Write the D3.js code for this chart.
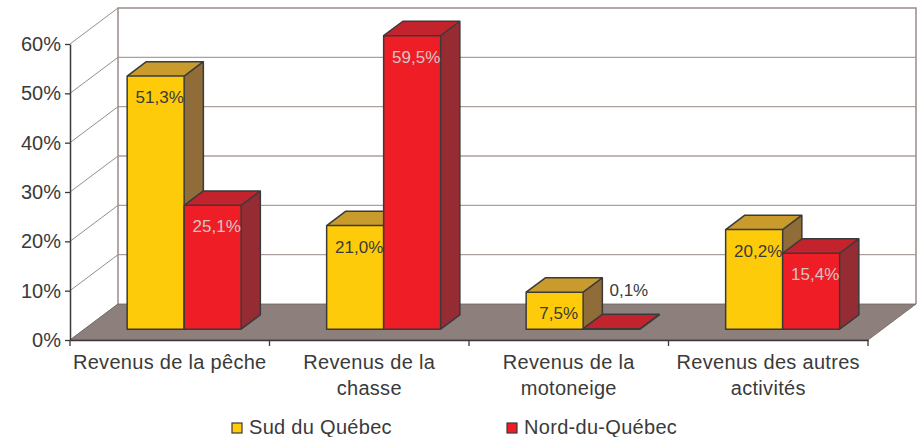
<!DOCTYPE html>
<html>
<head>
<meta charset="utf-8">
<script src="https://cdn.jsdelivr.net/npm/d3@7"></script>
<style>
  body { margin: 0; background: #fff; }
  text { font-family: "Liberation Sans", Arial, sans-serif; }
</style>
</head>
<body>
<div id="chart"></div>
<script>
// data
var categories = ["Revenus de la pêche", "Revenus de la chasse", "Revenus de la motoneige", "Revenus des autres activités"];
var categoryLines = [["Revenus de la pêche"], ["Revenus de la", "chasse"], ["Revenus de la", "motoneige"], ["Revenus des autres", "activités"]];
var seriesNames = ["Sud du Québec", "Nord-du-Québec"];
var sud = [51.3, 21.0, 7.5, 20.2];
var nord = [25.1, 59.5, 0.1, 15.4];
var yTicks = [0, 10, 20, 30, 40, 50, 60];

// colours: front, top, side, label
var colors = [
  {front: "#fecb0a", top: "#c99a2c", side: "#8f6c38", label: "#3a3a3a"},
  {front: "#ee1d26", top: "#c2232c", side: "#962c33", label: "#d6c4c4"}
];

var W = 919, H = 437;
var x0 = 70, x1 = 868, yBase = 340, yTop = 44;
var depthX = 48, depthY = -36;     // full depth offset of the back wall
var zFront = 0.3, zBack = 0.7;     // bars sit in the middle of the depth

var svg = d3.select("#chart").append("svg")
    .attr("width", W).attr("height", H);

var x = d3.scaleBand().domain(categories).range([x0, x1]);
var xs = d3.scaleBand().domain(seriesNames).range([0, x.bandwidth()]).paddingOuter(0.75);
var y = d3.scaleLinear().domain([0, 60]).range([yBase, yTop]);

function px(xv, z) { return xv + depthX * z; }
function py(yv, z) { return yv + depthY * z; }

// back wall gridlines
var wall = svg.append("g");
wall.selectAll("line.grid").data(yTicks.slice(1, -1)).enter().append("line")
    .attr("x1", px(x0, 1)).attr("x2", px(x1, 1))
    .attr("y1", function(d) { return py(y(d), 1); })
    .attr("y2", function(d) { return py(y(d), 1); })
    .attr("stroke", "#ada09c").attr("stroke-width", 1.3);
// diagonals on the side wall
wall.selectAll("line.diag").data(yTicks).enter().append("line")
    .attr("x1", x0).attr("y1", function(d) { return y(d); })
    .attr("x2", px(x0, 1)).attr("y2", function(d) { return py(y(d), 1); })
    .attr("stroke", "#9a8c88").attr("stroke-width", 1);
// wall outline
wall.append("path")
    .attr("d", "M" + px(x0, 1) + "," + py(yBase, 1) +
               "V" + py(yTop, 1) + "H" + px(x1, 1) + "V" + py(yBase, 1))
    .attr("fill", "none").attr("stroke", "#9a8c88").attr("stroke-width", 1.5);

// floor
svg.append("path")
    .attr("d", "M" + x0 + "," + yBase + "L" + px(x0, 1) + "," + py(yBase, 1) +
               "L" + px(x1, 1) + "," + py(yBase, 1) + "L" + x1 + "," + yBase + "Z")
    .attr("fill", "#8d807c").attr("stroke", "#6e625f").attr("stroke-width", 0.8);

// bars
var bars = [];
categories.forEach(function(c, i) {
  [sud[i], nord[i]].forEach(function(v, s) {
    bars.push({cat: c, s: s, name: seriesNames[s], value: v});
  });
});

var barG = svg.append("g").selectAll("g").data(bars).enter().append("g");
barG.each(function(d) {
  var g = d3.select(this);
  var L = x(d.cat) + xs(d.name), R = L + xs.bandwidth();
  var T = y(d.value), B = y(0);
  var fl = px(L, zFront), fr = px(R, zFront), ft = py(T, zFront), fb = py(B, zFront);
  var br = px(R, zBack), bl = px(L, zBack), bt = py(T, zBack), bb = py(B, zBack);
  var c = colors[d.s];
  // side
  g.append("path").attr("d", "M" + fr + "," + ft + "L" + br + "," + bt + "L" + br + "," + bb + "L" + fr + "," + fb + "Z")
    .attr("fill", c.side);
  // top
  g.append("path").attr("d", "M" + fl + "," + ft + "L" + bl + "," + bt + "L" + br + "," + bt + "L" + fr + "," + ft + "Z")
    .attr("fill", c.top);
  // front
  g.append("rect").attr("x", fl).attr("y", ft).attr("width", fr - fl).attr("height", fb - ft)
    .attr("fill", c.front);
  // outline
  g.append("path")
    .attr("d", "M" + fl + "," + fb + "V" + ft + "L" + bl + "," + bt + "H" + br + "V" + bb + "L" + fr + "," + fb + "Z" +
               "M" + fl + "," + ft + "H" + fr + "V" + fb + "M" + fr + "," + ft + "L" + br + "," + bt)
    .attr("fill", "none").attr("stroke", "#3a3a3a").attr("stroke-width", 1.5)
    .attr("stroke-linejoin", "round");
});

// value labels
var fmt = function(v) { return d3.format(".1f")(v).replace(".", ",") + "%"; };
svg.append("g").selectAll("text").data(bars).enter().append("text")
    .attr("font-size", 17)
    .attr("text-anchor", "middle")
    .each(function(d) {
      var L = x(d.cat) + xs(d.name), w = xs.bandwidth();
      var T = y(d.value);
      var inside = (y(0) - T) > 20;
      var t = d3.select(this).text(fmt(d.value));
      if (inside) {
        t.attr("x", px(L + w / 2, zFront) + 4).attr("y", py(T, zFront) + 27)
         .attr("fill", colors[d.s].label);
      } else {
        t.attr("x", px(L + w / 2, zBack) - 2).attr("y", py(T, zBack) - 18)
         .attr("fill", "#3a3a3a");
      }
    });

// y axis
var yAxis = svg.append("g")
    .attr("transform", "translate(" + x0 + ",0)")
    .call(d3.axisLeft(y).tickValues(yTicks).tickSize(5).tickSizeOuter(0).tickPadding(4)
      .tickFormat(function(d) { return d + "%"; }));
yAxis.select(".domain").attr("stroke", "#3a3a3a").attr("stroke-width", 1.5);
yAxis.selectAll(".tick line").attr("stroke", "#3a3a3a").attr("stroke-width", 1.3);
yAxis.selectAll(".tick text").attr("font-size", 20).attr("fill", "#3a3a3a")
    .attr("font-family", "Liberation Sans, Arial, sans-serif");

// x axis
var xAxis = svg.append("g")
    .attr("transform", "translate(0," + yBase + ")")
    .call(d3.axisBottom(x).tickSize(0).tickSizeOuter(0).tickFormat(""));
xAxis.select(".domain").attr("stroke", "#3a3a3a").attr("stroke-width", 1.5);
var bounds = categories.map(function(c) { return x(c); }).concat([x1]);
xAxis.selectAll("line.bound").data(bounds).enter().append("line")
    .attr("class", "bound")
    .attr("x1", function(d) { return d; }).attr("x2", function(d) { return d; })
    .attr("y1", 0).attr("y2", 6)
    .attr("stroke", "#3a3a3a").attr("stroke-width", 1.3);

var catText = svg.append("g").selectAll("text").data(categories).enter().append("text")
    .attr("x", function(d) { return x(d) + x.bandwidth() / 2; })
    .attr("y", 369)
    .attr("text-anchor", "middle")
    .attr("font-size", 20)
    .attr("letter-spacing", 0.3)
    .attr("fill", "#3a3a3a");
catText.each(function(d, i) {
  var t = d3.select(this);
  categoryLines[i].forEach(function(line, k) {
    t.append("tspan").attr("x", x(d) + x.bandwidth() / 2).attr("dy", k === 0 ? 0 : 26).text(line);
  });
});

// legend
var legendX = [232, 507];
var legend = svg.append("g").selectAll("g").data(seriesNames).enter().append("g")
    .attr("transform", function(d, i) { return "translate(" + legendX[i] + ",423)"; });
legend.append("rect")
    .attr("width", 10).attr("height", 10)
    .attr("fill", function(d, i) { return colors[i].front; })
    .attr("stroke", "#3a3a3a").attr("stroke-width", 1.2);
legend.append("text")
    .attr("x", 17).attr("y", 11)
    .attr("font-size", 20).attr("letter-spacing", 0.3).attr("fill", "#3a3a3a")
    .text(function(d) { return d; });
</script>
</body>
</html>
